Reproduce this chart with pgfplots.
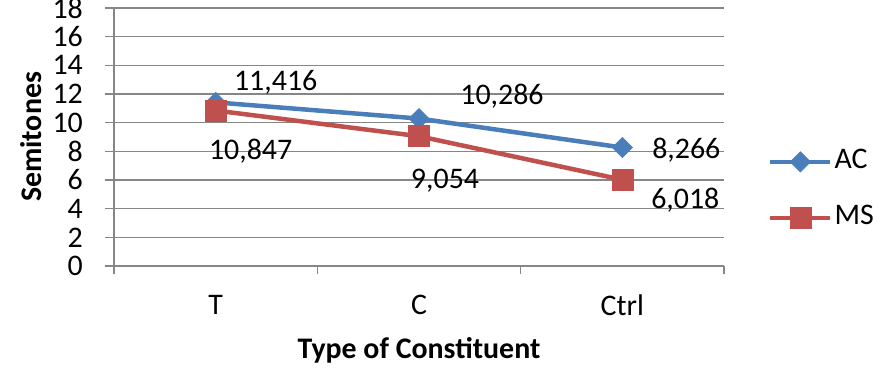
\documentclass[border=0pt]{standalone}
\usepackage{pgfplots}
\pgfplotsset{compat=1.18}
\usepackage{fontspec}
\setmainfont{Carlito}
\definecolor{acblue}{RGB}{74,126,187}
\definecolor{msred}{RGB}{192,80,77}
\definecolor{gridgray}{RGB}{134,134,134}

\pgfplotstableread{
x y
1 11.416
2 10.286
3 8.266
}\acdata
\pgfplotstableread{
x y
1 10.847
2 9.054
3 6.018
}\msdata

% value label for the point of one category (x range #2), shifted by (#3,#4)
\newcommand{\valuelabel}[4]{%
  \addplot[draw=none, mark=none, forget plot, restrict x to domain=#2,
    point meta=y,
    nodes near coords={\pgfmathprintnumber[fixed,fixed zerofill,precision=3,use comma]{\pgfplotspointmeta}},
    every node near coord/.append style={anchor=center, text=black, xshift=#3bp, yshift=#4bp}]
    table[x=x,y=y] {#1};}

\begin{document}
\fontsize{30}{36}\selectfont
\begin{tikzpicture}[font=\fontsize{30}{36}\selectfont]
\path[use as bounding box] (0,0) rectangle (878bp,368bp);
\begin{axis}[
  at={(114bp,102bp)}, anchor=south west,
  scale only axis, width=610bp, height=258bp,
  xmin=0.5, xmax=3.5, ymin=0, ymax=18,
  clip=false,
  axis x line*=bottom, axis y line*=left,
  axis line style={gridgray, line width=1.5bp},
  ytick={0,2,...,18},
  xtick={1,2,3}, xticklabels={T,C,Ctrl},
  x tick style={draw=none},
  extra x ticks={0.5,1.5,2.5,3.5},
  extra x tick labels={},
  extra x tick style={x tick style={draw=gridgray, line width=1.5bp}, major tick length=8bp},
  tick align=outside,
  major tick length=9bp,
  tick style={gridgray, line width=1.5bp},
  ymajorgrids=true,
  major grid style={gridgray, line width=1.5bp},
  /pgf/number format/assume math mode=true,
  yticklabel style={anchor=east, inner sep=0pt, xshift=-22bp},
  xticklabel style={anchor=center, inner sep=0pt, yshift=-30bp},
  xlabel={\bfseries Type of Constituent},
  ylabel={\bfseries Semitones},
  xlabel style={at={(rel axis cs:0.5,-0.3256)}, anchor=center},
  ylabel style={at={(rel axis cs:-0.136,0.5)}, anchor=center},
  legend style={at={(rel axis cs:1.072,0.295)}, anchor=west, draw=none, fill=none,
    inner sep=0pt, row sep=29bp,
    nodes={inner sep=2bp, text height=18bp, text depth=5bp}},
  legend cell align=left,
  legend image code/.code={\draw[mark repeat=2,mark phase=2,#1] plot coordinates {(0bp,0bp)(30bp,0bp)(60bp,0bp)};},
]
\addplot[acblue, line width=4.5bp, mark=square*, mark size=7.2bp,
  mark options={rotate=45, solid, line width=0.5bp, fill=acblue}]
  table[x=x,y=y] {\acdata};
\addlegendentry{AC}
\addplot[msred, line width=4.5bp, mark=square*, mark size=10.5bp,
  mark options={solid, line width=0.5bp, fill=msred}]
  table[x=x,y=y] {\msdata};
\addlegendentry{MS}
\valuelabel{\acdata}{0.9:1.1}{60}{20}
\valuelabel{\acdata}{1.9:2.1}{83}{22}
\valuelabel{\acdata}{2.9:3.1}{64}{-3}
\valuelabel{\msdata}{0.9:1.1}{35}{-41}
\valuelabel{\msdata}{1.9:2.1}{26}{-44}
\valuelabel{\msdata}{2.9:3.1}{63}{-20}
\end{axis}
\end{tikzpicture}
\end{document}
